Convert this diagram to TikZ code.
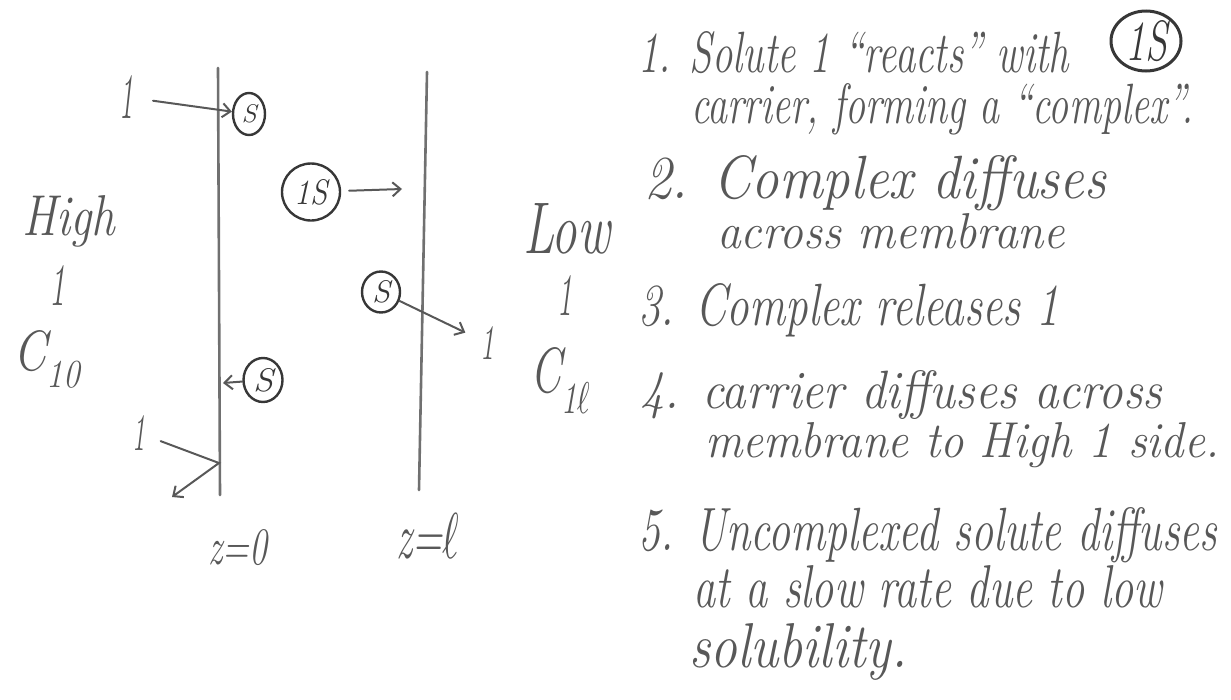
\documentclass[tikz,border=0pt]{standalone}
\usepackage{fontspec}
\usepackage{graphicx}
\usetikzlibrary{arrows.meta,shapes.geometric}
\definecolor{pencil}{RGB}{88,88,88}
\definecolor{lead}{RGB}{112,112,112}
\definecolor{ink}{RGB}{55,55,55}
% hand lettering: a text squeezed to a given width and height (in pt)
\newcommand{\hw}[3]{\resizebox{#1pt}{#2pt}{\fontsize{56}{60}\selectfont\itshape #3}}
% script l, set at a size the math fonts have and scaled to the text
\newcommand{\lsym}{\resizebox{!}{0.69em}{\fontsize{10}{12}\selectfont$\ell$}}
\begin{document}
\begin{tikzpicture}[x=1pt,y=-1pt,
  txt/.style={anchor=base west, inner sep=0pt, text=pencil},
  lbl/.style={anchor=center, inner sep=0pt, text=pencil},
  membrane/.style={draw=lead, line width=2.6pt, line cap=round},
  arr/.style={draw=pencil, line width=2pt, line cap=round,
    -{Straight Barb[length=8pt,width=14pt,line width=2pt]}},
  bubble/.style={ellipse, draw=ink, line width=2.4pt, inner sep=0pt, text=ink}]
\useasboundingbox (0,0) rectangle (1231,699);

% the two faces of the membrane
\coordinate (mlt) at (218,68);  \coordinate (mlb) at (220,495);
\coordinate (mrt) at (427,72);  \coordinate (mrb) at (419,490);
\draw[membrane] (mlt) -- (mlb);
\draw[membrane] (mrt) -- (mrb);

% carrier and complex
\node[bubble, minimum width=32pt, minimum height=42pt] (s1) at (249,114) {\hw{15}{18}{S}};
\node[bubble, minimum width=58pt, minimum height=57pt] (cs1) at (311,192) {\hw{33}{25}{1S}};
\node[bubble, minimum width=38pt, minimum height=41pt] (s2) at (381,292) {\hw{18}{22}{S}};
\node[bubble, minimum width=39pt, minimum height=44pt] (s3) at (263,380) {\hw{20}{23}{S}};

% solute labels
\node[lbl] (n1) at (126,97) {\hw{14}{43}{1}};
\node[lbl] (n3) at (487,343) {\hw{14}{33}{1}};
\node[lbl] (n4) at (139,433) {\hw{13}{35}{1}};

% high side
\node[txt] (hi) at (22,235) {\hw{93}{40}{High}};
\node[lbl] (hione) at (57,285) {\hw{16}{40}{1}};
\node[txt] (c10) at (13,370) {\hw{67}{40}{C\textsubscript{10}}};

% low side
\node[txt] (lo) at (523,253) {\hw{87}{50}{Low}};
\node[lbl] (loone) at (565,295) {\hw{15}{40}{1}};
\node[txt] (c1l) at (530,392) {\hw{60}{45}{C\textsubscript{1\lsym}}};

% positions
\node[lbl] (z0) at (238,548) {\hw{59}{35}{z=0}};
\node[lbl] (zl) at (428,536) {\hw{63}{45}{z=\lsym}};

% steps of the transport
\coordinate (a2) at (402,189);
\coordinate (a4) at (223,383);
\coordinate (refl) at (219,463);
\coordinate (a5) at (172,497);
\draw[arr, shorten <=20pt] (n1) -- (s1);
\draw[arr, shorten <=8pt] (cs1) -- (a2);
\draw[arr, shorten >=16pt] (s2) -- (n3);
\draw[arr] (s3) -- (a4);
\draw[arr, shorten <=16pt] (n4) -- (refl) -- (a5);

% notes
\node[txt] (l1) at (638,72) {\hw{431}{41}{1. Solute 1 “reacts” with}};
\node[bubble, minimum width=70pt, minimum height=60pt, line width=3pt] (cx) at (1146,41) {\hw{42}{40}{1S}};
\node[txt] (l2) at (691,123) {\hw{502}{40}{carrier, forming a “complex”.}};
\node[txt] (l3) at (644,198) {\hw{462}{43}{2. Complex diffuses}};
\node[txt] (l4) at (717,248) {\hw{348}{35}{across membrane}};
\node[txt] (l5) at (638,325) {\hw{421}{42}{3. Complex releases 1}};
\node[txt] (l6) at (640,408) {\hw{522}{38}{4. carrier diffuses across}};
\node[txt] (l7) at (705,457) {\hw{514}{35}{membrane to High 1 side.}};
\node[txt] (l8) at (638,550) {\hw{579}{43}{5. Uncomplexed solute diffuses}};
\node[txt] (l9) at (693,607) {\hw{469}{42}{at a slow rate due to low}};
\node[txt] (l10) at (689,667) {\hw{218}{44}{solubility.}};
\end{tikzpicture}
\end{document}
